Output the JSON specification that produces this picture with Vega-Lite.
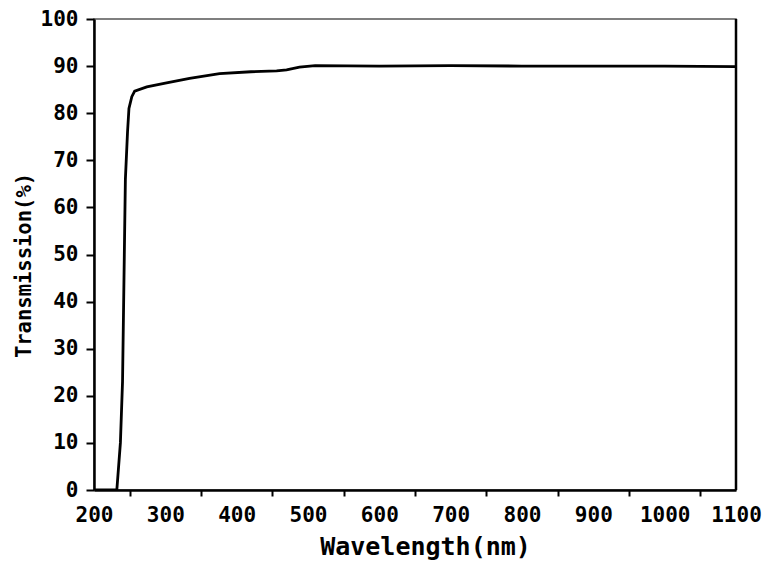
{
  "$schema": "https://vega.github.io/schema/vega-lite/v6.json",
  "width": 642,
  "height": 471,
  "autosize": {"type": "none"},
  "padding": {"left": 94, "top": 19, "right": 31, "bottom": 74},
  "background": "white",
  "config": {
    "view": {"stroke": "#555", "strokeWidth": 1.5},
    "font": "DejaVu Sans Mono"
  },
  "data": {
    "values": [
      {"wl": 200, "t": 0},
      {"wl": 225, "t": 0},
      {"wl": 232, "t": 0},
      {"wl": 237, "t": 10},
      {"wl": 240, "t": 23},
      {"wl": 244, "t": 66},
      {"wl": 247, "t": 76},
      {"wl": 249, "t": 81},
      {"wl": 253, "t": 83.5},
      {"wl": 257, "t": 84.7},
      {"wl": 274, "t": 85.6},
      {"wl": 300, "t": 86.4},
      {"wl": 334, "t": 87.4},
      {"wl": 376, "t": 88.4},
      {"wl": 420, "t": 88.8},
      {"wl": 456, "t": 89.0},
      {"wl": 470, "t": 89.2},
      {"wl": 488, "t": 89.8},
      {"wl": 510, "t": 90.1},
      {"wl": 600, "t": 90.0},
      {"wl": 700, "t": 90.1},
      {"wl": 800, "t": 90.0},
      {"wl": 900, "t": 90.0},
      {"wl": 1000, "t": 90.0},
      {"wl": 1100, "t": 89.9}
    ]
  },
  "encoding": {
    "x": {
      "field": "wl", "type": "quantitative",
      "scale": {"domain": [200, 1100], "nice": false, "zero": false},
      "axis": {
        "title": "Wavelength(nm)",
        "values": [200, 250, 300, 350, 400, 450, 500, 550, 600, 650, 700, 750, 800, 850, 900, 950, 1000, 1050, 1100],
        "labelExpr": "datum.value % 100 == 0 ? datum.label : ''",
        "format": "d",
        "labelOverlap": false,
        "labelFlush": false,
        "grid": false,
        "domainColor": "black", "domainWidth": 2.5,
        "tickColor": "black", "tickWidth": 2, "tickSize": 6,
        "tickOpacity": {"condition": {"test": "datum.value % 100 == 0", "value": 0}, "value": 1},
        "labelFont": "DejaVu Sans Mono", "labelFontWeight": "bold", "labelFontSize": 21, "labelColor": "black",
        "labelPadding": 8,
        "titleFont": "DejaVu Sans Mono", "titleFontWeight": "bold", "titleFontSize": 25, "titleColor": "black",
        "titlePadding": 9,
        "titleX": 331
      }
    },
    "y": {
      "field": "t", "type": "quantitative",
      "scale": {"domain": [0, 100], "nice": false},
      "axis": {
        "title": "Transmission(%)",
        "values": [0, 10, 20, 30, 40, 50, 60, 70, 80, 90, 100],
        "grid": false,
        "domainColor": "black", "domainWidth": 2.5,
        "tickColor": "black", "tickWidth": 2, "tickSize": 8,
        "labelFont": "DejaVu Sans Mono", "labelFontWeight": "bold", "labelFontSize": 21, "labelColor": "black",
        "labelPadding": 8,
        "titleFont": "DejaVu Sans Mono", "titleFontWeight": "bold", "titleFontSize": 20.5, "titleColor": "black",
        "titlePadding": 6,
        "titleY": 246
      }
    }
  },
  "layer": [
    {
      "mark": {"type": "line", "color": "black", "strokeWidth": 2.8, "clip": true}
    },
    {
      "data": {"values": [{"edge": 1100}]},
      "mark": {"type": "rule", "color": "black", "strokeWidth": 2.5},
      "encoding": {
        "x": {"field": "edge", "type": "quantitative"},
        "y": null
      }
    }
  ]
}
